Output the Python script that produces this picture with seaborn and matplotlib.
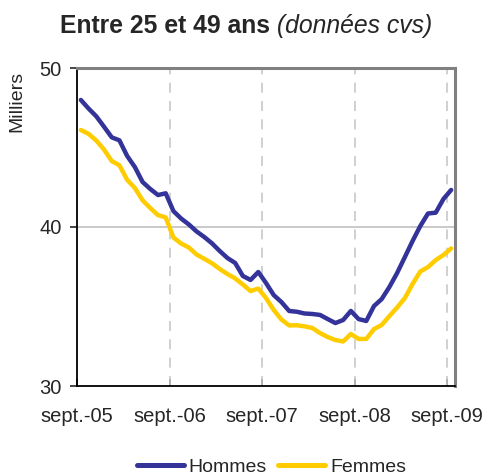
import numpy as np
import pandas as pd
import matplotlib
matplotlib.use("Agg")
import matplotlib.pyplot as plt
import seaborn as sns
from matplotlib.lines import Line2D

# Monthly data, sept.-05 .. sept.-09 (thousands)
hommes = [47.99, 47.45, 46.96, 46.31, 45.64, 45.45, 44.47, 43.77, 42.83, 42.39,
          42.01, 42.12, 41.00, 40.53, 40.16, 39.72, 39.37, 38.97, 38.49, 38.05,
          37.74, 36.92, 36.67, 37.17, 36.48, 35.72, 35.28, 34.72, 34.67, 34.56,
          34.53, 34.47, 34.21, 33.96, 34.15, 34.72, 34.21, 34.09, 35.03, 35.47,
          36.23, 37.11, 38.11, 39.12, 40.06, 40.85, 40.90, 41.76, 42.33]
femmes = [46.10, 45.86, 45.44, 44.87, 44.15, 43.88, 42.97, 42.45, 41.68, 41.19,
          40.75, 40.60, 39.34, 38.96, 38.71, 38.27, 38.00, 37.72, 37.36, 37.04,
          36.77, 36.38, 35.97, 36.13, 35.53, 34.78, 34.18, 33.81, 33.82, 33.75,
          33.65, 33.33, 33.08, 32.89, 32.80, 33.27, 32.96, 32.96, 33.58, 33.84,
          34.40, 34.94, 35.53, 36.42, 37.20, 37.48, 37.92, 38.24, 38.65]
series_names = ["Hommes", "Femmes"]
tick_labels = ["sept.-05", "sept.-06", "sept.-07", "sept.-08", "sept.-09"]
y_ticks = [30, 40, 50]

months = np.arange(len(hommes))
df = pd.DataFrame({
    "mois": np.concatenate([months, months]),
    "valeur": hommes + femmes,
    "serie": [series_names[0]] * len(hommes) + [series_names[1]] * len(femmes),
})

sns.set_style("white")
plt.rcParams["font.family"] = ["Liberation Sans", "DejaVu Sans"]

fig = plt.figure(figsize=(4.9, 4.76), dpi=100)
ax = fig.add_axes([77 / 490, (476 - 386) / 476, (455 - 77) / 490, (386 - 68) / 476])

colors = {"Hommes": "#333399", "Femmes": "#FFCC00"}
sns.lineplot(data=df, x="mois", y="valeur", hue="serie", palette=colors,
             linewidth=3.2, ax=ax, legend=False, zorder=3)

ax.set_xlim(-0.5, 48.5)
ax.set_ylim(30, 50)
xt = [-0.5 + 12 * k for k in range(len(tick_labels))]
ax.set_xticks(xt)
ax.set_xticklabels(tick_labels, fontsize=14.5)
ax.set_yticks(y_ticks)
ax.set_yticklabels([str(v) for v in y_ticks], fontsize=14.5)
ax.set_xlabel("")
ax.set_ylabel("Milliers", fontsize=14)
ax.yaxis.set_label_coords((25 - 77) / 378, (386 - 101) / 318)

# grid
ax.axhline(40, color="#c0c0c0", lw=1.2, zorder=1)
for x in xt[1:]:
    ax.axvline(x, color="#c8c8c8", lw=1.2, ls=(0, (6, 5)), zorder=1)

for side in ["left", "bottom"]:
    ax.spines[side].set_color("black")
    ax.spines[side].set_linewidth(1.3)
for side in ["top", "right"]:
    ax.spines[side].set_color("#808080")
    ax.spines[side].set_linewidth(2.2)

ax.tick_params(axis="y", direction="out", length=5, width=1.2, pad=6, left=True)
ax.tick_params(axis="x", direction="in", length=5, width=1.2, pad=15, bottom=True)

# title: bold + italic parts
t1 = fig.text(60 / 490, (476 - 33) / 476, "Entre 25 et 49 ans", fontsize=17.8,
              fontweight="bold", ha="left", va="baseline")
ax.annotate(" (données cvs)", xy=(1, 0), xycoords=t1, fontsize=17.8,
            fontstyle="italic", ha="left", va="bottom")

handles = [Line2D([0], [0], color=colors[n], lw=3.6, solid_capstyle="round") for n in series_names]
fig.legend(handles, series_names, loc="center", bbox_to_anchor=(271.5 / 490, (476 - 467) / 476),
           ncol=2, frameon=False, fontsize=14, handlelength=2.4, handletextpad=0.25,
           columnspacing=0.6)

fig.savefig("out.png", dpi=100)
